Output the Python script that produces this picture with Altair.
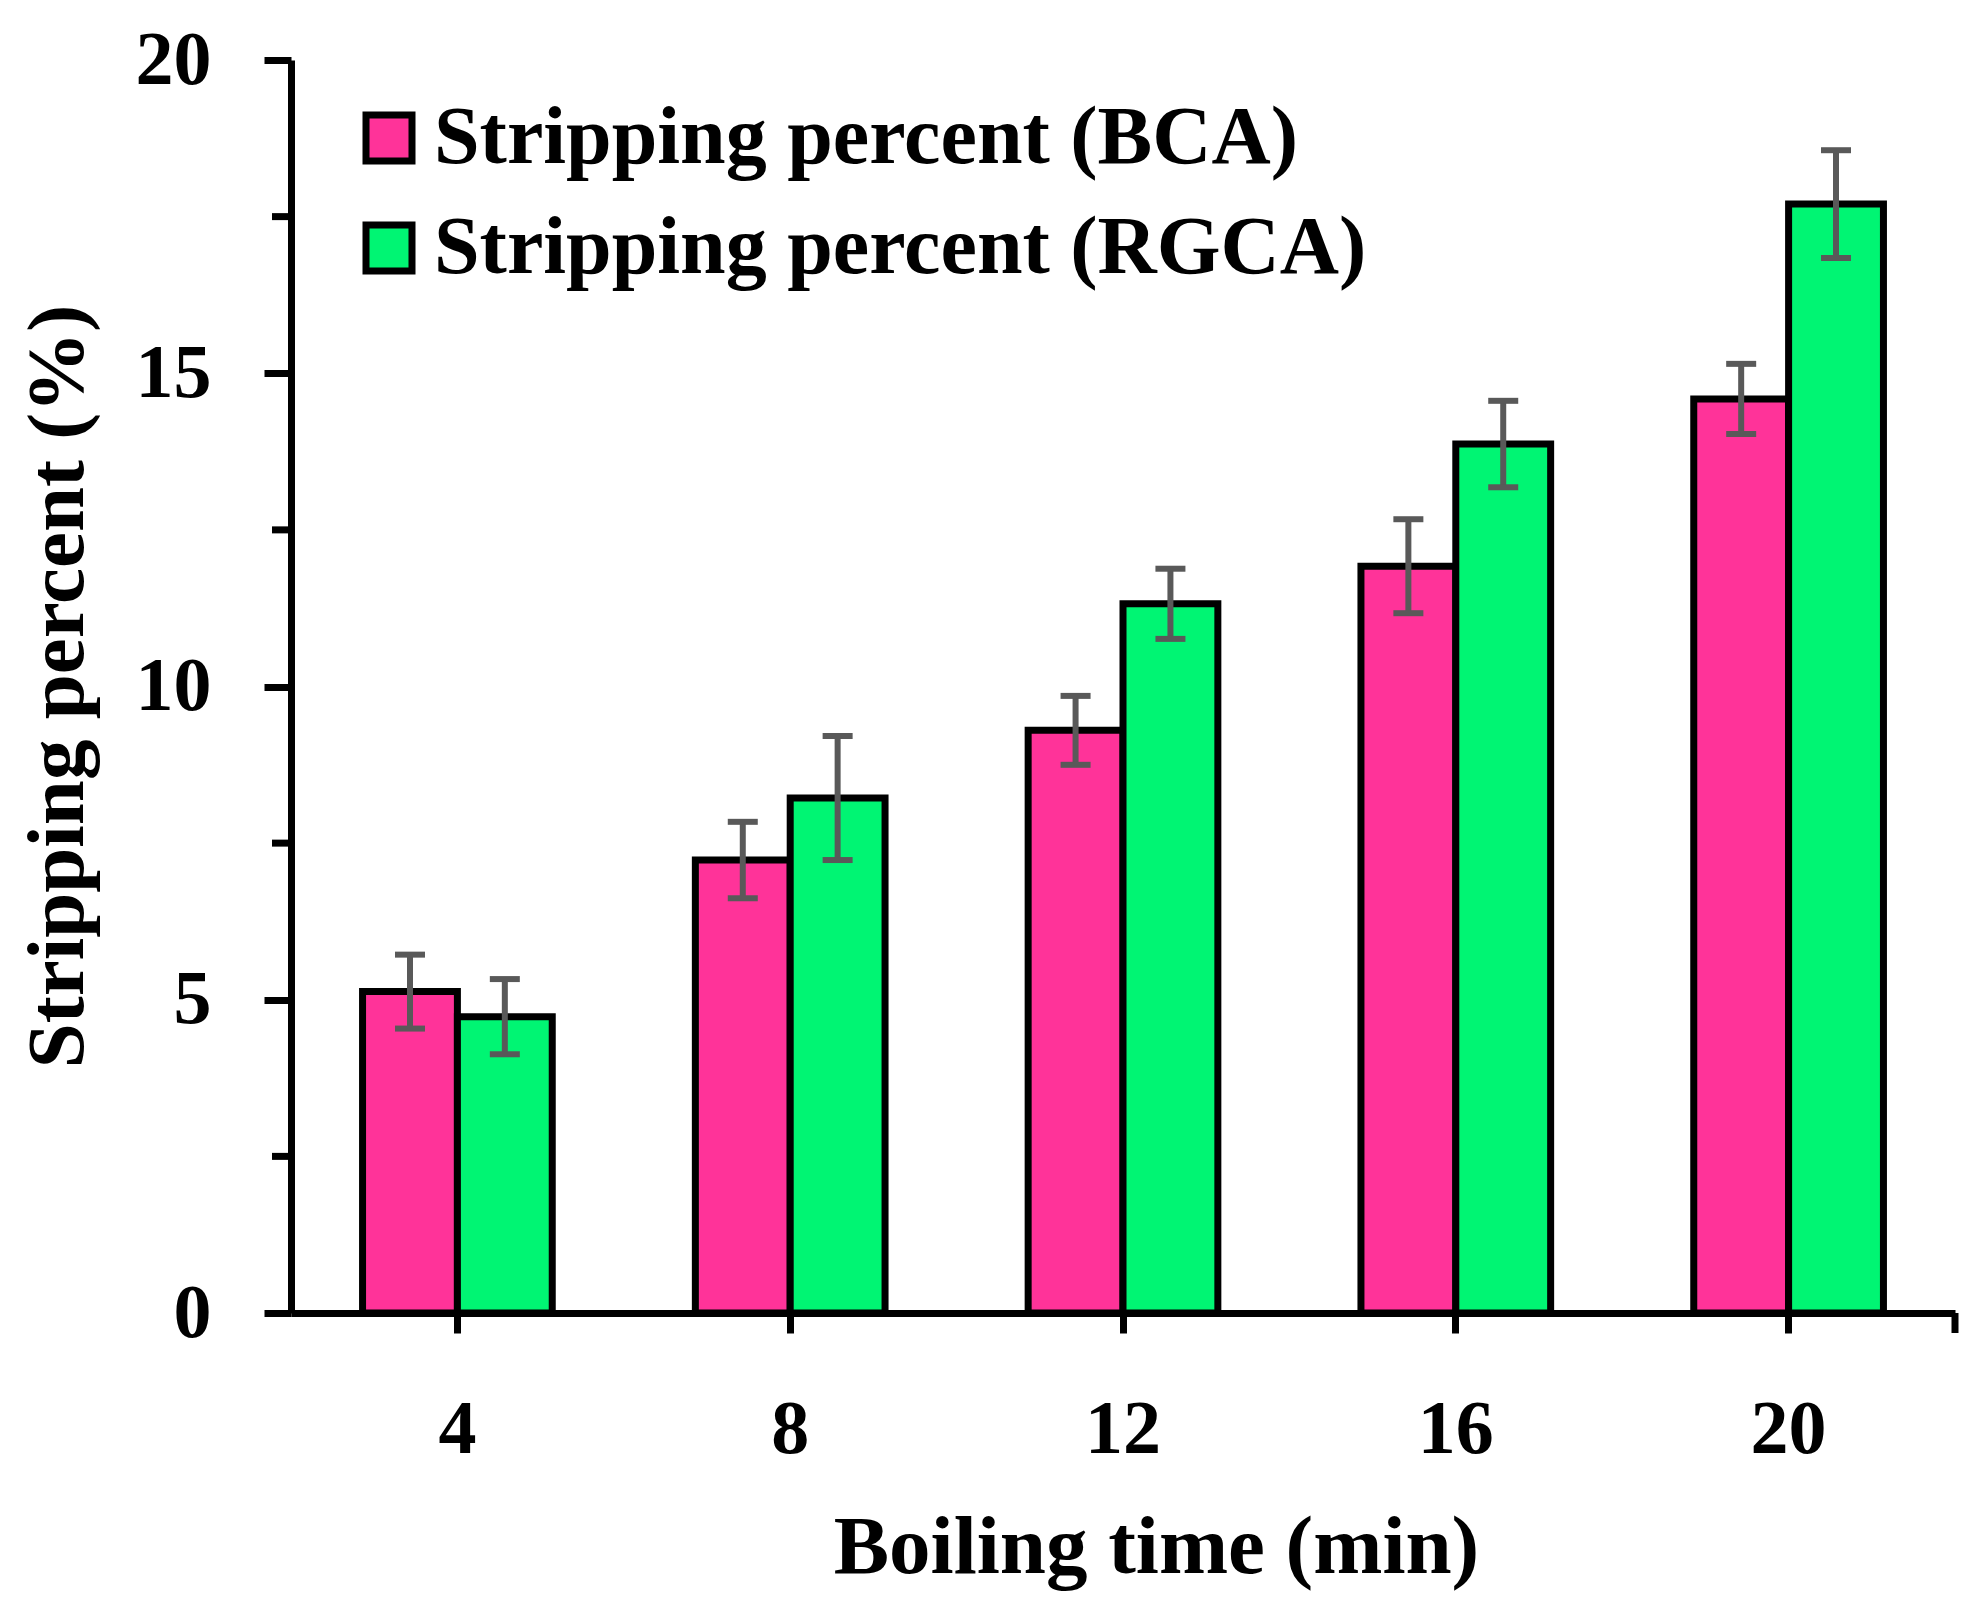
import altair as alt
import pandas as pd

# boiling time groups (min)
times = [4, 8, 12, 16, 20]
series = ["Stripping percent (BCA)", "Stripping percent (RGCA)"]
colors = ["#FF3399", "#00F573"]

# stripping percent (%), with +/- error
bca = [5.13, 7.23, 9.30, 11.92, 14.59]
rgca = [4.73, 8.22, 11.32, 13.87, 17.70]
bca_err = [0.59, 0.61, 0.55, 0.75, 0.56]
rgca_err = [0.60, 0.99, 0.56, 0.69, 0.86]

y_ticks = [0, 5, 10, 15, 20]
y_minor = [2.5, 7.5, 12.5, 17.5]

FONT = "Liberation Serif"
W, H = 1664, 1253

rows = []
for vals, errs, name in [(bca, bca_err, series[0]), (rgca, rgca_err, series[1])]:
    for t, v, e in zip(times, vals, errs):
        rows.append({"time": t, "series": name, "value": v, "lo": v - e, "hi": v + e})
df = pd.DataFrame(rows)

x_enc = alt.X(
    "time:O",
    scale=alt.Scale(paddingInner=0.43, paddingOuter=0.215),
    axis=alt.Axis(
        title="Boiling time (min)",
        labelAngle=0,
        labelFont=FONT,
        labelFontWeight="bold",
        labelFontSize=76,
        labelColor="black",
        labelBaseline="top",
        labelPadding=59,
        tickSize=20,
        tickWidth=7,
        tickColor="black",
        domainWidth=7,
        domainColor="black",
        titleFont=FONT,
        titleFontWeight="bold",
        titleFontSize=83,
        titleColor="black",
        titleX=865,
        titleY=259,
        titleBaseline="alphabetic",
        titleAlign="center",
    ),
)
y_scale = alt.Scale(domain=[0, 20], nice=False)
y_axis = alt.Axis(
    title="Stripping percent (%)",
    values=y_ticks,
    format="d",
    labelFont=FONT,
    labelFontWeight="bold",
    labelFontSize=76,
    labelColor="black",
    labelPadding=53,
    tickSize=27,
    tickWidth=7,
    tickColor="black",
    domainWidth=7,
    domainColor="black",
    titleFont=FONT,
    titleFontWeight="bold",
    titleFontSize=81,
    titleColor="black",
    titleAngle=270,
    titleX=-209,
    titleY=626,
    titleBaseline="alphabetic",
    titleAlign="center",
)
xoff = alt.XOffset("series:N", scale=alt.Scale(domain=series))

bars = (
    alt.Chart(df)
    .mark_bar(stroke="black", strokeWidth=7)
    .encode(
        x=x_enc,
        xOffset=xoff,
        y=alt.Y("value:Q", scale=y_scale, axis=y_axis),
        color=alt.Color(
            "series:N",
            scale=alt.Scale(domain=series, range=colors),
            legend=alt.Legend(
                title=None,
                orient="none",
                legendX=57,
                legendY=37,
                symbolType="square",
                symbolSize=2116,
                symbolStrokeColor="black",
                symbolStrokeWidth=7,
                symbolOpacity=1,
                labelFont=FONT,
                labelFontWeight="bold",
                labelFontSize=82,
                labelColor="black",
                labelLimit=2000,
                labelOffset=4,
                rowPadding=28,
                padding=0,
            ),
        ),
    )
)

err_line = (
    alt.Chart(df)
    .mark_rule(color="#595959", strokeWidth=6)
    .encode(x="time:O", xOffset=xoff, y="lo:Q", y2="hi:Q")
)

err_caps = (
    alt.Chart(df)
    .transform_fold(["lo", "hi"], as_=["end", "v"])
    .mark_tick(orient="horizontal", color="#595959", size=30, thickness=6, opacity=1)
    .encode(x="time:O", xOffset=xoff, y="v:Q")
)

minor = (
    alt.Chart(pd.DataFrame({"m": y_minor}))
    .mark_rule(color="black", strokeWidth=7)
    .encode(y="m:Q", x=alt.value(-19), x2=alt.value(0))
)

end_tick = (
    alt.Chart(pd.DataFrame({"a": [0]}))
    .mark_rule(color="black", strokeWidth=7)
    .encode(x=alt.value(W), y=alt.value(H), y2=alt.value(H + 20))
)

chart = (
    alt.layer(bars, err_line, err_caps, minor, end_tick)
    .properties(
        width=W,
        height=H,
        autosize=alt.AutoSizeParams(type="none"),
        padding={"left": 283, "top": 52, "right": 10, "bottom": 282},
        background="white",
    )
    .configure_view(stroke=None)
    .configure_axis(grid=False)
)

chart.save("out.html", embed_options={"renderer": "svg", "actions": False})
